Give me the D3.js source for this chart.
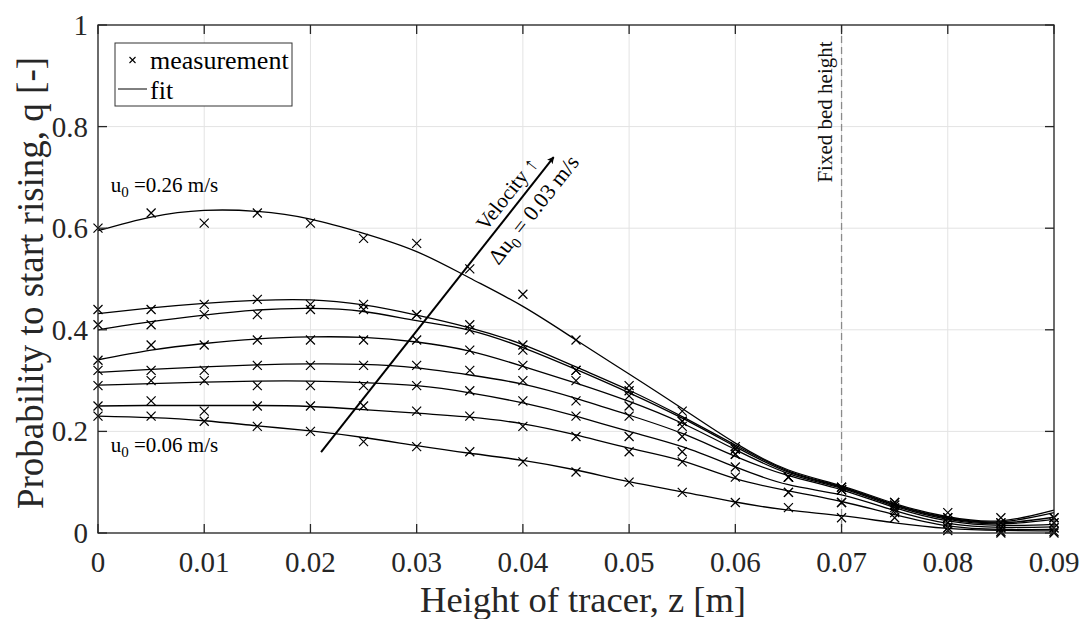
<!DOCTYPE html>
<html><head><meta charset="utf-8">
<script src="https://cdn.jsdelivr.net/npm/d3@7"></script>
<style>html,body{margin:0;padding:0;background:#fff;}svg{display:block;}</style>
</head><body>
<svg id="chart" width="1087" height="619"></svg>
<script>
// ---- data ----
const zValues = [0,0.005,0.01,0.015,0.02,0.025,0.03,0.035,0.04,0.045,0.05,0.055,0.06,0.065,0.07,0.075,0.08,0.085,0.09];
const xTicks = [0,0.01,0.02,0.03,0.04,0.05,0.06,0.07,0.08,0.09];
const xTickLabels = ["0","0.01","0.02","0.03","0.04","0.05","0.06","0.07","0.08","0.09"];
const yTicks = [0,0.2,0.4,0.6,0.8,1];
const yTickLabels = ["0","0.2","0.4","0.6","0.8","1"];

// measurements (u0 from 0.06 to 0.26 m/s)
const meas1 = [0.23,0.23,0.22,0.21,0.20,0.18,0.17,0.16,0.14,0.12,0.10,0.08,0.06,0.05,0.03,0.03,0.005,0.0,0.0];
const meas2 = [0.25,0.26,0.24,0.25,0.25,0.25,0.24,0.23,0.21,0.19,0.16,0.14,0.11,0.08,0.06,0.04,0.01,0.003,0.003];
const meas3 = [0.29,0.30,0.30,0.29,0.29,0.29,0.29,0.28,0.26,0.23,0.19,0.16,0.13,0.08,0.06,0.045,0.01,0.01,0.01];
const meas4 = [0.32,0.32,0.32,0.33,0.33,0.33,0.33,0.32,0.30,0.26,0.23,0.19,0.155,0.11,0.085,0.05,0.02,0.01,0.01];
const meas5 = [0.34,0.37,0.37,0.38,0.38,0.38,0.38,0.36,0.33,0.30,0.25,0.21,0.155,0.11,0.085,0.055,0.02,0.01,0.02];
const meas6 = [0.41,0.41,0.43,0.43,0.44,0.44,0.43,0.40,0.36,0.32,0.27,0.22,0.165,0.11,0.085,0.055,0.03,0.02,0.02];
const meas7 = [0.44,0.44,0.45,0.46,0.45,0.45,0.43,0.41,0.37,0.32,0.28,0.22,0.165,0.11,0.09,0.06,0.03,0.02,0.03];
const meas8 = [0.60,0.63,0.61,0.63,0.61,0.58,0.57,0.52,0.47,0.38,0.29,0.24,0.17,0.11,0.09,0.06,0.04,0.03,0.03];

// fitted curves, read at the same heights
const fit1 = [0.230,0.227,0.221,0.211,0.201,0.188,0.172,0.157,0.143,0.124,0.101,0.081,0.061,0.045,0.034,0.020,0.009,0.005,0.004];
const fit2 = [0.250,0.251,0.251,0.251,0.249,0.243,0.236,0.228,0.215,0.193,0.167,0.142,0.107,0.083,0.062,0.036,0.014,0.007,0.007];
const fit3 = [0.291,0.294,0.297,0.299,0.299,0.296,0.290,0.276,0.256,0.230,0.200,0.170,0.130,0.095,0.075,0.044,0.019,0.011,0.012];
const fit4 = [0.316,0.322,0.327,0.331,0.333,0.332,0.325,0.311,0.293,0.265,0.232,0.196,0.151,0.113,0.085,0.050,0.024,0.015,0.017];
const fit5 = [0.341,0.360,0.373,0.382,0.386,0.385,0.376,0.358,0.328,0.295,0.259,0.216,0.164,0.117,0.088,0.053,0.027,0.018,0.027];
const fit6 = [0.400,0.416,0.429,0.439,0.442,0.436,0.418,0.399,0.365,0.322,0.276,0.226,0.170,0.120,0.090,0.055,0.029,0.020,0.031];
const fit7 = [0.432,0.443,0.452,0.458,0.459,0.449,0.429,0.404,0.371,0.327,0.281,0.229,0.173,0.122,0.091,0.056,0.030,0.022,0.040];
const fit8 = [0.595,0.622,0.635,0.633,0.618,0.590,0.554,0.502,0.446,0.380,0.313,0.245,0.177,0.124,0.093,0.058,0.032,0.024,0.045];

const measSeries = [meas1,meas2,meas3,meas4,meas5,meas6,meas7,meas8];
const fitSeries = [fit1,fit2,fit3,fit4,fit5,fit6,fit7,fit8];

// annotations (data units)
const fixedBedHeight = 0.07;
const arrowStart = [0.021, 0.159];
const arrowEnd = [0.0429, 0.740];
const labelTop = {u: "0.26", z: 0.0012, q: 0.671};
const labelBottom = {u: "0.06", z: 0.0012, q: 0.160};

// ---- drawing ----
const FONT = "'Liberation Serif','Times New Roman',serif";
const svg = d3.select("#chart");
const x = d3.scaleLinear().domain([0,0.09]).range([98,1054]);
const y = d3.scaleLinear().domain([0,1]).range([533,25]);
const axisColor = "#262626";

// grid
const grid = svg.append("g");
grid.selectAll("line.vx").data(xTicks).join("line")
  .attr("x1", d=>x(d)).attr("x2", d=>x(d)).attr("y1", y(0)).attr("y2", y(1))
  .attr("stroke", "#e3e3e3").attr("stroke-width", 1);
grid.selectAll("line.hy").data(yTicks).join("line")
  .attr("x1", x(0)).attr("x2", x(0.09)).attr("y1", d=>y(d)).attr("y2", d=>y(d))
  .attr("stroke", "#e3e3e3").attr("stroke-width", 1);

// fixed bed height dashed line
svg.append("line")
  .attr("x1", x(fixedBedHeight)).attr("x2", x(fixedBedHeight))
  .attr("y1", y(1)).attr("y2", y(0))
  .attr("stroke", "#8a8a8a").attr("stroke-width", 1.3).attr("stroke-dasharray", "7,4");
svg.append("text")
  .attr("transform", `translate(${x(fixedBedHeight)-10},${112}) rotate(-90)`)
  .attr("text-anchor", "middle").attr("font-family", FONT).attr("font-size", 21)
  .attr("fill", "#111").text("Fixed bed height");

// fits
const line = d3.line().x((d,i)=>x(zValues[i])).y(d=>y(d)).curve(d3.curveNatural);
svg.append("g").selectAll("path").data(fitSeries).join("path")
  .attr("d", line).attr("fill", "none").attr("stroke", "#000").attr("stroke-width", 1.3);

// measurement markers
const cross = s => `M${-s},${-s}L${s},${s}M${-s},${s}L${s},${-s}`;
const mg = svg.append("g");
measSeries.forEach(ser => {
  mg.append("g").selectAll("path").data(ser).join("path")
    .attr("transform", (d,i)=>`translate(${x(zValues[i])},${y(d)})`)
    .attr("d", cross(4.5)).attr("stroke", "#000").attr("stroke-width", 1.2).attr("fill", "none");
});

// axes box
const axes = svg.append("g");
axes.append("rect").attr("x", x(0)).attr("y", y(1)).attr("width", x(0.09)-x(0)).attr("height", y(0)-y(1))
  .attr("fill", "none").attr("stroke", axisColor).attr("stroke-width", 1.3);
const tl = 9;
axes.selectAll("line.xb").data(xTicks).join("line")
  .attr("x1", d=>x(d)).attr("x2", d=>x(d)).attr("y1", y(0)).attr("y2", y(0)-tl)
  .attr("stroke", axisColor).attr("stroke-width", 1.3);
axes.selectAll("line.xt").data(xTicks).join("line")
  .attr("x1", d=>x(d)).attr("x2", d=>x(d)).attr("y1", y(1)).attr("y2", y(1)+tl)
  .attr("stroke", axisColor).attr("stroke-width", 1.3);
axes.selectAll("line.yl").data(yTicks).join("line")
  .attr("x1", x(0)).attr("x2", x(0)+tl).attr("y1", d=>y(d)).attr("y2", d=>y(d))
  .attr("stroke", axisColor).attr("stroke-width", 1.3);
axes.selectAll("line.yr").data(yTicks).join("line")
  .attr("x1", x(0.09)).attr("x2", x(0.09)-tl).attr("y1", d=>y(d)).attr("y2", d=>y(d))
  .attr("stroke", axisColor).attr("stroke-width", 1.3);

axes.selectAll("text.xl").data(xTicks).join("text")
  .attr("x", d=>x(d)).attr("y", 572).attr("text-anchor", "middle")
  .attr("font-family", FONT).attr("font-size", 29).attr("fill", axisColor)
  .text((d,i)=>xTickLabels[i]);
axes.selectAll("text.yl").data(yTicks).join("text")
  .attr("x", 88).attr("y", d=>y(d)+10).attr("text-anchor", "end")
  .attr("font-family", FONT).attr("font-size", 29).attr("fill", axisColor)
  .text((d,i)=>yTickLabels[i]);

svg.append("text").attr("x", 583).attr("y", 612).attr("text-anchor", "middle")
  .attr("font-family", FONT).attr("font-size", 36.5).attr("fill", axisColor)
  .text("Height of tracer, z [m]");
svg.append("text").attr("transform", `translate(43,283) rotate(-90)`).attr("text-anchor", "middle")
  .attr("font-family", FONT).attr("font-size", 37).attr("fill", axisColor)
  .text("Probability to start rising, q [-]");

// u0 labels
function uLabel(l) {
  const t = svg.append("text").attr("x", x(l.z)).attr("y", y(l.q))
    .attr("font-family", FONT).attr("font-size", 21).attr("fill", "#000");
  t.append("tspan").text("u");
  t.append("tspan").attr("font-size", 15).attr("dy", 5).text("0");
  t.append("tspan").attr("dy", -5).text(" =" + l.u + " m/s");
}
uLabel(labelTop); uLabel(labelBottom);

// velocity arrow
const defs = svg.append("defs");
defs.append("marker").attr("id", "ah").attr("viewBox", "0 0 10 10").attr("refX", 9).attr("refY", 5)
  .attr("markerWidth", 7).attr("markerHeight", 7).attr("markerUnits", "userSpaceOnUse")
  .attr("orient", "auto")
  .append("path").attr("d", "M0,0L10,5L0,10L2.5,5Z").attr("fill", "#000");
const p0 = [x(arrowStart[0]), y(arrowStart[1])];
const p1 = [x(arrowEnd[0]), y(arrowEnd[1])];
svg.append("line").attr("x1", p0[0]).attr("y1", p0[1]).attr("x2", p1[0]).attr("y2", p1[1])
  .attr("stroke", "#000").attr("stroke-width", 2).attr("marker-end", "url(#ah)");
const dx = p1[0]-p0[0], dy = p1[1]-p0[1], L = Math.hypot(dx,dy);
const ux = dx/L, uy = dy/L;
const nx = uy, ny = -ux; // normal pointing up-left
const ang = Math.atan2(dy, dx)*180/Math.PI;
function along(s, n) { return [p0[0]+ux*s+nx*n, p0[1]+uy*s+ny*n]; }
const v1 = along(318, 7);
svg.append("text").attr("transform", `translate(${v1[0]},${v1[1]}) rotate(${ang})`)
  .attr("text-anchor", "middle").attr("font-family", FONT).attr("font-size", 21).attr("fill", "#000")
  .text("Velocity \u2191");
const v2 = along(322, -24);
const t2 = svg.append("text").attr("transform", `translate(${v2[0]},${v2[1]}) rotate(${ang})`)
  .attr("text-anchor", "middle").attr("font-family", FONT).attr("font-size", 22).attr("fill", "#000");
t2.append("tspan").text("\u0394u");
t2.append("tspan").attr("font-size", 15).attr("dy", 5).text("0");
t2.append("tspan").attr("dy", -5).text(" = 0.03 m/s");

// legend
const lg = svg.append("g");
lg.append("rect").attr("x", 115).attr("y", 43).attr("width", 177).attr("height", 63)
  .attr("fill", "#fff").attr("stroke", "#333").attr("stroke-width", 1);
lg.append("path").attr("transform", "translate(132.5,60)").attr("d", cross(3))
  .attr("stroke", "#000").attr("stroke-width", 1.1);
lg.append("text").attr("x", 150).attr("y", 69).attr("font-family", FONT).attr("font-size", 26).attr("fill", "#000").text("measurement");
lg.append("line").attr("x1", 118).attr("x2", 147).attr("y1", 89).attr("y2", 89).attr("stroke", "#000").attr("stroke-width", 1);
lg.append("text").attr("x", 150).attr("y", 99).attr("font-family", FONT).attr("font-size", 26).attr("fill", "#000").text("fit");
</script>
</body></html>
